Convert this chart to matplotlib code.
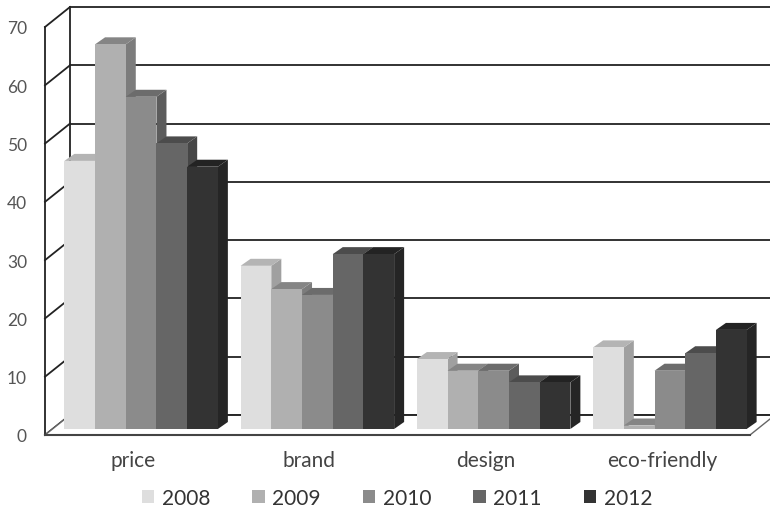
import numpy as np
import matplotlib.pyplot as plt
from matplotlib.patches import Polygon

categorias = ['price', 'brand', 'design', 'eco-friendly']
anios = ['2008', '2009', '2010', '2011', '2012']
v2008 = [46, 28, 12, 14]
v2009 = [66, 24, 10, 0.6]
v2010 = [57, 23, 10, 10]
v2011 = [49, 30, 8, 13]
v2012 = [45, 30, 8, 17]
series = [v2008, v2009, v2010, v2011, v2012]
yticks = [0, 10, 20, 30, 40, 50, 60, 70]

# colores: frente, arriba, costado
frente = ['#dedede', '#b0b0b0', '#8b8b8b', '#666666', '#333333']
arriba = ['#b4b4b4', '#858585', '#6c6c6c', '#4c4c4c', '#232323']
costado = ['#a0a0a0', '#7c7c7c', '#5c5c5c', '#464646', '#252525']

plt.rcParams['font.family'] = ['Lato', 'DejaVu Sans']
fig = plt.figure(figsize=(7.7, 5.1), dpi=100)
ax = fig.add_axes([45/770, 74/510, 705/770, 408/510])
ax.set_xlim(0, 4)
ax.set_ylim(0, 70)
ax.patch.set_visible(False)
for s in ax.spines.values():
    s.set_visible(False)

# paso de pixeles a unidades de datos
px = 4/705
py = 70/408
prof_x, prof_y = 25*px, 20*py    # profundidad del piso
bar_x, bar_y = 10*px, 7*py       # profundidad de cada barra
sh_y = 6*py                      # frente de las barras respecto del eje
ancho = 30.7*px
color_linea = '#222222'

# paredes y lineas de fondo
for t in yticks:
    ax.plot([0, prof_x], [t, t+prof_y], color=color_linea, lw=1.3, clip_on=False, zorder=1)
    ax.plot([prof_x, 4.15], [t+prof_y, t+prof_y], color=color_linea, lw=1.3, clip_on=False, zorder=1)
ax.plot([0, 0], [0, 70], color=color_linea, lw=1.3, clip_on=False, zorder=1)
ax.plot([prof_x, prof_x], [prof_y, 70+prof_y], color=color_linea, lw=1.3, clip_on=False, zorder=1)

# piso
piso = Polygon([(0, 0), (4, 0), (4+prof_x, prof_y), (prof_x, prof_y)], closed=True,
               facecolor='white', edgecolor='#666666', lw=1.0, clip_on=False, zorder=1.5)
ax.add_patch(piso)
ax.plot([prof_x, 4.15], [prof_y, prof_y], color=color_linea, lw=1.3, clip_on=False, zorder=1.6)
ax.plot([0, 4], [0, 0], color='#444444', lw=1.5, clip_on=False, zorder=1.7)

x = np.arange(len(categorias))
z = 2
handles = []
for i, vals in enumerate(series):
    izq = x + 0.5 - 2.5*ancho + 8*px + i*ancho
    for j, v in enumerate(vals):
        xi = izq[j]
        x1 = xi + ancho
        ax.add_patch(Polygon([(x1, sh_y), (x1+bar_x, sh_y+bar_y), (x1+bar_x, sh_y+v+bar_y), (x1, sh_y+v)],
                             closed=True, facecolor=costado[i], edgecolor='none', clip_on=False, zorder=z))
        ax.add_patch(Polygon([(xi, sh_y+v), (x1, sh_y+v), (x1+bar_x, sh_y+v+bar_y), (xi+bar_x, sh_y+v+bar_y)],
                             closed=True, facecolor=arriba[i], edgecolor='none', clip_on=False, zorder=z))
    b = ax.bar(izq, vals, width=ancho, bottom=sh_y, align='edge', color=frente[i], label=anios[i],
               clip_on=False, zorder=z+0.5)
    handles.append(b)
    z += 1

ax.set_xticks(x + 0.5)
ax.set_xticklabels(categorias, fontsize=15, color='#444444')
ax.set_yticks(yticks)
ax.set_yticklabels([str(t) for t in yticks], fontsize=12.5, color='#555555')
ax.tick_params(axis='x', length=0, pad=11)
ax.tick_params(axis='y', length=0, pad=13)

fig.legend(handles=handles, loc='center', bbox_to_anchor=(397/770, 11/510), ncol=5, frameon=False,
           fontsize=15, labelcolor='#333333', handlelength=0.6, handleheight=0.6, handletextpad=0.35,
           columnspacing=2.03, borderpad=0)

plt.savefig('out.png', dpi=100)
